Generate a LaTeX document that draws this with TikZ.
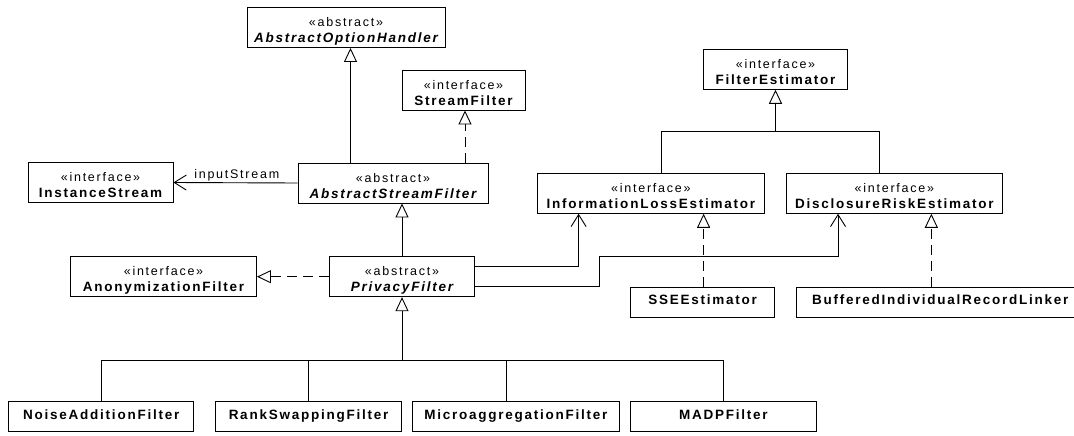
\documentclass[tikz,border=0pt]{standalone}
\usepackage{fontspec}
\setmainfont{Liberation Sans}
\newfontfamily\stfont{Liberation Sans}[LetterSpace=14]
\newfontfamily\nmfont{Liberation Sans}[LetterSpace=13]
\usetikzlibrary{arrows.meta,calc}
\newcommand\umlstereo[1]{\rule{0pt}{17.4pt}{\stfont\mdseries\upshape\fontsize{12.5}{16}\selectfont «#1»}}
\newcommand\umlname[1]{#1\rule[-3pt]{0pt}{3pt}}
\newcommand\umlleaf[1]{\rule[-6pt]{0pt}{16.6pt}#1}
\tikzset{
  umlbox/.style={draw, line width=0.9pt, inner sep=0pt, align=center, minimum height=40pt,
    font=\nmfont\bfseries\fontsize{13.5}{16}\selectfont},
  leafbox/.style={draw, line width=0.9pt, inner sep=0pt, minimum height=30pt,
    font=\nmfont\bfseries\fontsize{13.5}{16}\selectfont},
  conn/.style={line width=0.9pt},
  inh/.style={conn, -{Triangle[open,length=14pt,width=13pt,line width=0.9pt]}},
  real/.style={inh, dash pattern=on 10pt off 6pt},
  assoc/.style={conn, -{Straight Barb[length=12pt,width=15pt,line width=0.9pt]}},
  rolelabel/.style={font=\stfont\fontsize{12.5}{14}\selectfont, inner sep=0pt}
}
\begin{document}
\begin{tikzpicture}[x=1pt,y=-1pt]
\useasboundingbox (0,0) rectangle (1074,436);

% classes
\node[umlbox, minimum width=198pt] (AOH) at (346,27.5) {\umlstereo{abstract}\\\umlname{\itshape AbstractOptionHandler}};
\node[umlbox, minimum width=123pt] (SF) at (463.5,90) {\umlstereo{interface}\\\umlname{StreamFilter}};
\node[umlbox, minimum width=145pt] (IS) at (100.5,182.5) {\umlstereo{interface}\\\umlname{InstanceStream}};
\node[umlbox, minimum width=190pt] (ASF) at (393,183) {\umlstereo{abstract}\\\umlname{\itshape AbstractStreamFilter}};
\node[umlbox, minimum width=144pt] (FE) at (775.5,69.3) {\umlstereo{interface}\\\umlname{FilterEstimator}};
\node[umlbox, minimum width=226.6pt] (ILE) at (650.9,193.3) {\umlstereo{interface}\\\umlname{InformationLossEstimator}};
\node[umlbox, minimum width=216.5pt] (DRE) at (894.35,193.3) {\umlstereo{interface}\\\umlname{DisclosureRiskEstimator}};
\node[umlbox, minimum width=186pt] (AF) at (163.5,276.7) {\umlstereo{interface}\\\umlname{AnonymizationFilter}};
\node[umlbox, minimum width=145pt] (PF) at (402,276.7) {\umlstereo{abstract}\\\umlname{\itshape PrivacyFilter}};
\node[leafbox, minimum width=144pt] (SSE) at (702.6,302.3) {\umlleaf{SSEEstimator}};
\node[leafbox, minimum width=287.5pt] (BIRL) at (940.25,302.3) {\umlleaf{BufferedIndividualRecordLinker}};
\node[leafbox, minimum width=185.3pt] (NAF) at (101.25,416.7) {\umlleaf{NoiseAdditionFilter}};
\node[leafbox, minimum width=185.3pt] (RSF) at (308.55,416.7) {\umlleaf{RankSwappingFilter}};
\node[leafbox, minimum width=207.3pt] (MAF) at (515.85,416.7) {\umlleaf{MicroaggregationFilter}};
\node[leafbox, minimum width=185.7pt] (MADP) at (723.45,416.7) {\umlleaf{MADPFilter}};

% AbstractStreamFilter relations
\coordinate (aohB) at ($(AOH.south)+(4.5,0)$);
\draw[inh] (aohB |- ASF.north) -- (aohB);
\coordinate (sfB) at ($(SF.south)+(1.5,0)$);
\draw[real] (sfB |- ASF.north) -- (sfB);
\draw[assoc] (ASF.west) -- node[rolelabel, pos=0.49, above=1.5pt] (lblIS) {inputStream} (IS.east);

% PrivacyFilter relations
\draw[inh] (PF.north) -- (PF.north |- ASF.south);
\draw[real] (PF.west) -- (AF.east);

% FilterEstimator tree
\coordinate (feJ) at (FE.south |- 0,131.7);
\coordinate (ileT) at ($(ILE.north)+(11,0)$);
\coordinate (dreT) at ($(DRE.north)+(-15,0)$);
\draw[inh] (feJ) -- (FE.south);
\draw[conn] (ileT) |- (feJ) -| (dreT);

% PrivacyFilter subclasses
\coordinate (pfJ) at (PF.south |- 0,360);
\coordinate (mafT) at ($(MAF.north)+(-9.7,0)$);
\draw[inh] (pfJ) -- (PF.south);
\draw[conn] (NAF.north) |- (pfJ);
\draw[conn] (RSF.north) |- (pfJ);
\draw[conn] (mafT) |- (pfJ);
\draw[conn] (MADP.north) |- (pfJ);

% associations to estimators
\coordinate (ileB) at ($(ILE.south)+(-72.3,0)$);
\draw[assoc] ($(PF.east)+(0,-10)$) -| (ileB);
\coordinate (kDRE) at (599.4,256);
\coordinate (dreB) at ($(DRE.south)+(-56.3,0)$);
\draw[assoc] ($(PF.east)+(0,10)$) -| (kDRE) -| (dreB);

% estimator implementations
\coordinate (sseT) at ($(SSE.north)+(1,0)$);
\draw[real] (sseT) -- (sseT |- ILE.south);
\coordinate (dreB2) at ($(DRE.south)+(37,0)$);
\draw[real] (dreB2 |- BIRL.north) -- (dreB2);
\end{tikzpicture}
\end{document}
